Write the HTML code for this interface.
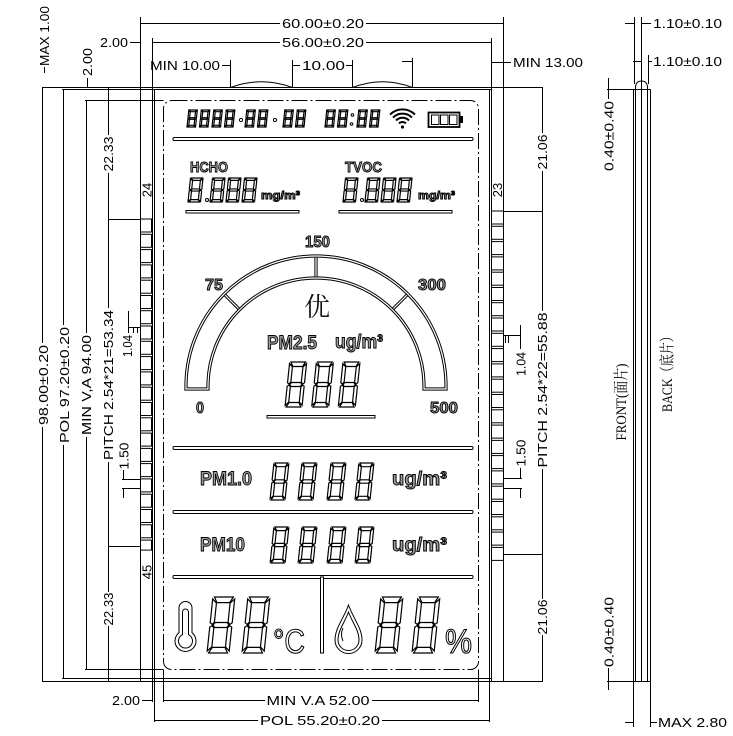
<!DOCTYPE html>
<html><head><meta charset="utf-8"><style>
html,body{margin:0;padding:0;background:#fff;}
svg{display:block}
.l{stroke:#000;stroke-width:1;fill:none}
.t{font-family:"Liberation Sans",sans-serif;font-size:13px;fill:#000}
.r{font-family:"Liberation Serif","Noto Serif CJK SC",serif;font-size:15px;fill:#000}
.b{font-family:"Liberation Sans",sans-serif;font-weight:bold;fill:#9a9a9a;stroke:#000;stroke-width:0.9}
.sg{fill:none;stroke:#000;stroke-width:1.2;vector-effect:non-scaling-stroke}
</style></head><body>
<svg width="733" height="736" viewBox="0 0 733 736" xmlns="http://www.w3.org/2000/svg">
<rect width="733" height="736" fill="#fff"/>
<g class="l">
<path d="M140.5 23.5H280M366 23.5H503.5M152.5 42.5H280M366 42.5H491.5M130 42.5H140.5M222 65.5H230.5M230.5 60V88M292.5 60V88M292.5 65.5H300M346 65.5H352.5M352.5 60V88M402 61.5H412.5M412.5 58V88M491.5 62.5H511"/>
<path d="M230.5 87.5Q261.5 76 292.5 87.5M352.5 87.5Q382.5 76 412.5 87.5"/>
<path d="M42 87.5H543M62 89.5H491.5M85 100.5H163.5M85 669.5H163.5M62 678.5H491.5M42 681.5H543"/>
<path d="M163.5 700.5H265M372 700.5H478.5M142 700.5H152.5M154.5 720.5H258M382 720.5H489.5"/>
<path d="M42.5 87.5V343M42.5 427V681.5M44.5 67V73M63.5 89.5V325M63.5 445V678.5M86.5 100.5V333M86.5 437V669.5M87.5 78V87.5"/>
<path d="M108.5 87.5V135M108.5 173V219.5M108.5 219.5V308M108.5 462V546.5M108.5 546.5V592M108.5 626V681.5M108.5 219.5H140.5M108.5 546.5H140.5"/>
<path d="M140.5 17V681.5M152.5 38V702M154.5 89.5V722M163.5 669.5V702M478.5 669.5V702M489.5 89.5V722M491.5 38V681.5M503.5 17V681.5"/>
<path d="M503.5 211.5H542.5M503.5 554.5H542.5M542.5 87.5V133M542.5 171V211.5M542.5 211.5V311M542.5 469V554.5M542.5 554.5V599M542.5 635V681.5"/>
<path d="M128.5 311V333M128.5 327.5H140.5M133.5 327.5V333M137.5 327.5V333M123.5 470V479.5M122 479.5H140.5M122 488.5H140.5M123.5 488.5V498"/>
<path d="M520.5 325V349M503.5 335.5H520.5M505.5 335.5V343M508.5 335.5V343M520.5 468V478.5M503.5 478.5H522M503.5 488.5H522M520.5 488.5V498"/>
<path d="M633.5 89.5V727M650.5 89.5V727M635.5 86V681.5M647.5 86V681.5M641.5 17V681.5M635.5 88Q635.5 81 641.5 81Q647.5 81 647.5 88M634.5 17V84M648.5 55V84M625 23.5H634.5M641.5 23.5H651M633 61.5H641.5M648.5 61.5H652M607 89.5H650.5M607 681.5H650.5M608.5 78V99M608.5 668V690M625 722.5H633.5M650.5 722.5H657"/>
</g>
<g class="l">
<rect x="140.5" y="219" width="11" height="13"/><rect x="140.5" y="234.3" width="11" height="13"/><rect x="140.5" y="249.6" width="11" height="13"/><rect x="140.5" y="264.9" width="11" height="13"/><rect x="140.5" y="280.2" width="11" height="13"/><rect x="140.5" y="295.5" width="11" height="13"/><rect x="140.5" y="310.7" width="11" height="13"/><rect x="140.5" y="326" width="11" height="13"/><rect x="140.5" y="341.3" width="11" height="13"/><rect x="140.5" y="356.6" width="11" height="13"/><rect x="140.5" y="371.9" width="11" height="13"/><rect x="140.5" y="387.2" width="11" height="13"/><rect x="140.5" y="402.5" width="11" height="13"/><rect x="140.5" y="417.8" width="11" height="13"/><rect x="140.5" y="433.1" width="11" height="13"/><rect x="140.5" y="448.4" width="11" height="13"/><rect x="140.5" y="463.6" width="11" height="13"/><rect x="140.5" y="478.9" width="11" height="13"/><rect x="140.5" y="494.2" width="11" height="13"/><rect x="140.5" y="509.5" width="11" height="13"/><rect x="140.5" y="524.8" width="11" height="13"/><rect x="140.5" y="540.1" width="11" height="10"/>
<rect x="491.5" y="211" width="12" height="13"/><rect x="491.5" y="226.3" width="12" height="13"/><rect x="491.5" y="241.6" width="12" height="13"/><rect x="491.5" y="256.9" width="12" height="13"/><rect x="491.5" y="272.2" width="12" height="13"/><rect x="491.5" y="287.5" width="12" height="13"/><rect x="491.5" y="302.7" width="12" height="13"/><rect x="491.5" y="318" width="12" height="13"/><rect x="491.5" y="333.3" width="12" height="13"/><rect x="491.5" y="348.6" width="12" height="13"/><rect x="491.5" y="363.9" width="12" height="13"/><rect x="491.5" y="379.2" width="12" height="13"/><rect x="491.5" y="394.5" width="12" height="13"/><rect x="491.5" y="409.8" width="12" height="13"/><rect x="491.5" y="425.1" width="12" height="13"/><rect x="491.5" y="440.4" width="12" height="13"/><rect x="491.5" y="455.6" width="12" height="13"/><rect x="491.5" y="470.9" width="12" height="13"/><rect x="491.5" y="486.2" width="12" height="13"/><rect x="491.5" y="501.5" width="12" height="13"/><rect x="491.5" y="516.8" width="12" height="13"/><rect x="491.5" y="532.1" width="12" height="13"/><rect x="491.5" y="547.4" width="12" height="13"/>
</g>
<!-- dimension text -->
<text class="t" x="323" y="28" text-anchor="middle" textLength="82" lengthAdjust="spacingAndGlyphs">60.00±0.20</text>
<text class="t" x="323" y="47" text-anchor="middle" textLength="82" lengthAdjust="spacingAndGlyphs">56.00±0.20</text>
<text class="t" x="100" y="47" textLength="28" lengthAdjust="spacingAndGlyphs">2.00</text>
<text class="t" x="150" y="70" textLength="70" lengthAdjust="spacingAndGlyphs">MIN 10.00</text>
<text class="t" x="302" y="70" textLength="43" lengthAdjust="spacingAndGlyphs">10.00</text>
<text class="t" x="513" y="67" textLength="70" lengthAdjust="spacingAndGlyphs">MIN 13.00</text>
<text class="t" x="653" y="28" textLength="69" lengthAdjust="spacingAndGlyphs">1.10±0.10</text>
<text class="t" x="653" y="66" textLength="69" lengthAdjust="spacingAndGlyphs">1.10±0.10</text>
<text class="t" x="318" y="705" text-anchor="middle" textLength="103" lengthAdjust="spacingAndGlyphs">MIN V.A 52.00</text>
<text class="t" x="112" y="705" textLength="28" lengthAdjust="spacingAndGlyphs">2.00</text>
<text class="t" x="320" y="725" text-anchor="middle" textLength="120" lengthAdjust="spacingAndGlyphs">POL 55.20±0.20</text>
<text class="t" x="658" y="727" textLength="69" lengthAdjust="spacingAndGlyphs">MAX 2.80</text>
<g class="t" text-anchor="middle">
<text transform="translate(49,36) rotate(-90)" textLength="60" lengthAdjust="spacingAndGlyphs">MAX 1.00</text>
<text transform="translate(92,62) rotate(-90)" textLength="28" lengthAdjust="spacingAndGlyphs">2.00</text>
<text transform="translate(113,154) rotate(-90)" textLength="35" lengthAdjust="spacingAndGlyphs">22.33</text>
<text transform="translate(48,385) rotate(-90)" textLength="80" lengthAdjust="spacingAndGlyphs">98.00±0.20</text>
<text transform="translate(69,385) rotate(-90)" textLength="116" lengthAdjust="spacingAndGlyphs">POL 97.20±0.20</text>
<text transform="translate(91,385) rotate(-90)" textLength="100" lengthAdjust="spacingAndGlyphs">MIN V,A 94.00</text>
<text transform="translate(113,385) rotate(-90)" textLength="150" lengthAdjust="spacingAndGlyphs">PITCH 2.54*21=53.34</text>
<text transform="translate(132,346) rotate(-90)" textLength="22" lengthAdjust="spacingAndGlyphs">1.04</text>
<text transform="translate(128.5,456) rotate(-90)" textLength="27" lengthAdjust="spacingAndGlyphs">1.50</text>
<text transform="translate(113,609) rotate(-90)" textLength="33" lengthAdjust="spacingAndGlyphs">22.33</text>
<text transform="translate(547,152) rotate(-90)" textLength="35" lengthAdjust="spacingAndGlyphs">21.06</text>
<text transform="translate(547,390) rotate(-90)" textLength="155" lengthAdjust="spacingAndGlyphs">PITCH 2.54*22=55.88</text>
<text transform="translate(547,617) rotate(-90)" textLength="35" lengthAdjust="spacingAndGlyphs">21.06</text>
<text transform="translate(525.5,364) rotate(-90)" textLength="24" lengthAdjust="spacingAndGlyphs">1.04</text>
<text transform="translate(525.5,453) rotate(-90)" textLength="27" lengthAdjust="spacingAndGlyphs">1.50</text>
<text transform="translate(613.5,136) rotate(-90)" textLength="70" lengthAdjust="spacingAndGlyphs">0.40±0.40</text>
<text transform="translate(613.5,632) rotate(-90)" textLength="70" lengthAdjust="spacingAndGlyphs">0.40±0.40</text>
<text transform="translate(151.5,190) rotate(-90)">24</text>
<text transform="translate(151.5,572) rotate(-90)">45</text>
<text transform="translate(502,190) rotate(-90)">23</text>
</g>
<g class="r" text-anchor="middle">
<text transform="translate(626,402) rotate(-90)" textLength="77" lengthAdjust="spacingAndGlyphs">FRONT(面片)</text>
<text transform="translate(672,371) rotate(-90)" textLength="82" lengthAdjust="spacingAndGlyphs">BACK（底片）</text>
</g>
<!-- display area -->
<rect x="163.5" y="100.5" width="315" height="569" rx="8" fill="none" stroke="#000" stroke-width="1" stroke-dasharray="16 3 2 3"/>
<g fill="#fff" stroke="#000" stroke-width="1">
<rect x="173" y="137.5" width="300" height="3" rx="1.2"/>
<rect x="173" y="446.5" width="300" height="3" rx="1.2"/>
<rect x="173" y="510.5" width="300" height="3" rx="1.2"/>
<rect x="173" y="575.5" width="300" height="3" rx="1.2"/>
<rect x="186" y="210.5" width="113" height="2.5"/>
<rect x="339" y="210.5" width="113" height="2.5"/>
<rect x="267" y="415.5" width="108" height="2.5"/>
<rect x="320.5" y="577" width="3" height="76"/>
</g>
<!-- gauge -->
<g fill="none" stroke="#000" stroke-width="3.2">
<path d="M186 389V386A130 130 0 0 1 446 386V389H424V386A108 108 0 0 0 208 386V389Z"/>
<path d="M316 256V278M224.1 294.1L239.6 309.6M407.9 294.1L392.4 309.6"/>
</g>
<g fill="none" stroke="#fff" stroke-width="1.2">
<path d="M186 389V386A130 130 0 0 1 446 386V389H424V386A108 108 0 0 0 208 386V389Z"/>
<path d="M316 257.5V276.5M225.2 295.2L238.5 308.5M406.8 295.2L393.5 308.5"/>
</g>
<text class="b" x="317.5" y="247" font-size="16" text-anchor="middle" textLength="25" lengthAdjust="spacingAndGlyphs">150</text>
<text class="b" x="205" y="290" font-size="16" textLength="18" lengthAdjust="spacingAndGlyphs">75</text>
<text class="b" x="418" y="290" font-size="16" textLength="28" lengthAdjust="spacingAndGlyphs">300</text>
<text class="b" x="196" y="413" font-size="16" textLength="8" lengthAdjust="spacingAndGlyphs">0</text>
<text class="b" x="430" y="413" font-size="16" textLength="28" lengthAdjust="spacingAndGlyphs">500</text>
<text x="317" y="316" font-family="'Noto Serif CJK SC','Noto Sans CJK SC',serif" font-size="26" text-anchor="middle" fill="#111">优</text>
<text class="b" x="267" y="349" font-size="19" textLength="50" lengthAdjust="spacingAndGlyphs">PM2.5</text>
<text class="b" x="335" y="348" font-size="19" textLength="48" lengthAdjust="spacingAndGlyphs">ug/m³</text>
<!-- labels -->
<text class="b" x="190" y="172" font-size="15" textLength="38" lengthAdjust="spacingAndGlyphs">HCHO</text>
<text class="b" x="345" y="172" font-size="15" textLength="37" lengthAdjust="spacingAndGlyphs">TVOC</text>
<text class="b" x="261" y="199" font-size="11" textLength="39" lengthAdjust="spacingAndGlyphs" stroke-width="0.6">mg/m³</text>
<text class="b" x="418" y="199" font-size="11" textLength="37" lengthAdjust="spacingAndGlyphs" stroke-width="0.6">mg/m³</text>
<text class="b" x="200" y="485" font-size="19" textLength="52" lengthAdjust="spacingAndGlyphs">PM1.0</text>
<text class="b" x="392" y="485" font-size="19" textLength="55" lengthAdjust="spacingAndGlyphs">ug/m³</text>
<text class="b" x="200" y="551" font-size="19" textLength="45" lengthAdjust="spacingAndGlyphs">PM10</text>
<text class="b" x="392" y="551" font-size="19" textLength="55" lengthAdjust="spacingAndGlyphs">ug/m³</text>
<text x="273" y="653" font-family="'Liberation Sans',sans-serif" font-size="34" fill="#fff" stroke="#000" stroke-width="1.1" textLength="32" lengthAdjust="spacingAndGlyphs">°C</text>
<text x="445" y="653" font-family="'Liberation Sans',sans-serif" font-size="34" fill="#fff" stroke="#000" stroke-width="1.1" textLength="27" lengthAdjust="spacingAndGlyphs">%</text>
<!-- icons -->
<g fill="none" stroke="#000" stroke-width="2">
<path d="M398.96 123.46A5 5 0 0 1 406.04 123.46M396 120.5A9.2 9.2 0 0 1 409 120.5M393.03 117.53A13.4 13.4 0 0 1 411.97 117.53M390.06 114.56A17.6 17.6 0 0 1 414.94 114.56"/>
</g>
<circle cx="402.5" cy="127" r="1.6" fill="#000"/>
<rect x="428.5" y="112.5" width="31" height="14.5" fill="none" stroke="#000" stroke-width="1.8"/>
<rect x="460" y="116" width="3" height="7" fill="#000"/>
<g fill="none" stroke="#000" stroke-width="1">
<rect x="431.5" y="115" width="7.5" height="9.5"/><rect x="440.5" y="115" width="7.5" height="9.5"/><rect x="449.5" y="115" width="7.5" height="9.5"/>
<circle cx="241" cy="120" r="1.6"/><circle cx="275" cy="120" r="1.6"/>
<circle cx="352.5" cy="115" r="1.3"/><circle cx="351.5" cy="124" r="1.3"/>
<circle cx="207" cy="200" r="1.5"/><circle cx="362" cy="200" r="1.5"/>
<path d="M179 632.7V608A6.5 6.5 0 0 1 192 608V632.7A10.5 10.5 0 1 1 179 632.7Z"/>
<path d="M182.5 634.7V612A3 3 0 0 1 188.5 612V634.7A7 7 0 1 1 182.5 634.7Z"/>
<path d="M348.5 605C344 618 335 628 335 640A13.5 13.5 0 0 0 362 640C362 628 353 618 348.5 605Z"/>
<path d="M348.5 612C345 622 338 630 338 640A10.5 10.5 0 0 0 359 640C359 630 352 622 348.5 612Z"/>
<path d="M343 628Q340 634 343 641"/>
</g>
<!-- segment digits -->
<g>
<path class="sg" transform="translate(188.8,110) skewX(-6) scale(0.85,0.85)" d="M0.7 0H9.3L7.9 2H2.1ZM0 0.7L1.9 2.2V8.9L1 9.8L0 9.2ZM10 0.7L8.1 2.2V8.9L9 9.8L10 9.2ZM1.4 10L2.3 9.1H7.7L8.6 10L7.7 10.9H2.3ZM0 10.8L1 10.2L1.9 11.1V17.8L0 19.3ZM10 10.8L9 10.2L8.1 11.1V17.8L10 19.3ZM0.7 20H9.3L7.9 18H2.1Z"/>
<path class="sg" transform="translate(201.3,110) skewX(-6) scale(0.85,0.85)" d="M0.7 0H9.3L7.9 2H2.1ZM0 0.7L1.9 2.2V8.9L1 9.8L0 9.2ZM10 0.7L8.1 2.2V8.9L9 9.8L10 9.2ZM1.4 10L2.3 9.1H7.7L8.6 10L7.7 10.9H2.3ZM0 10.8L1 10.2L1.9 11.1V17.8L0 19.3ZM10 10.8L9 10.2L8.1 11.1V17.8L10 19.3ZM0.7 20H9.3L7.9 18H2.1Z"/>
<path class="sg" transform="translate(213.8,110) skewX(-6) scale(0.85,0.85)" d="M0.7 0H9.3L7.9 2H2.1ZM0 0.7L1.9 2.2V8.9L1 9.8L0 9.2ZM10 0.7L8.1 2.2V8.9L9 9.8L10 9.2ZM1.4 10L2.3 9.1H7.7L8.6 10L7.7 10.9H2.3ZM0 10.8L1 10.2L1.9 11.1V17.8L0 19.3ZM10 10.8L9 10.2L8.1 11.1V17.8L10 19.3ZM0.7 20H9.3L7.9 18H2.1Z"/>
<path class="sg" transform="translate(226.3,110) skewX(-6) scale(0.85,0.85)" d="M0.7 0H9.3L7.9 2H2.1ZM0 0.7L1.9 2.2V8.9L1 9.8L0 9.2ZM10 0.7L8.1 2.2V8.9L9 9.8L10 9.2ZM1.4 10L2.3 9.1H7.7L8.6 10L7.7 10.9H2.3ZM0 10.8L1 10.2L1.9 11.1V17.8L0 19.3ZM10 10.8L9 10.2L8.1 11.1V17.8L10 19.3ZM0.7 20H9.3L7.9 18H2.1Z"/>
<path class="sg" transform="translate(246.8,110) skewX(-6) scale(0.85,0.85)" d="M0.7 0H9.3L7.9 2H2.1ZM0 0.7L1.9 2.2V8.9L1 9.8L0 9.2ZM10 0.7L8.1 2.2V8.9L9 9.8L10 9.2ZM1.4 10L2.3 9.1H7.7L8.6 10L7.7 10.9H2.3ZM0 10.8L1 10.2L1.9 11.1V17.8L0 19.3ZM10 10.8L9 10.2L8.1 11.1V17.8L10 19.3ZM0.7 20H9.3L7.9 18H2.1Z"/>
<path class="sg" transform="translate(259.3,110) skewX(-6) scale(0.85,0.85)" d="M0.7 0H9.3L7.9 2H2.1ZM0 0.7L1.9 2.2V8.9L1 9.8L0 9.2ZM10 0.7L8.1 2.2V8.9L9 9.8L10 9.2ZM1.4 10L2.3 9.1H7.7L8.6 10L7.7 10.9H2.3ZM0 10.8L1 10.2L1.9 11.1V17.8L0 19.3ZM10 10.8L9 10.2L8.1 11.1V17.8L10 19.3ZM0.7 20H9.3L7.9 18H2.1Z"/>
<path class="sg" transform="translate(284.8,110) skewX(-6) scale(0.85,0.85)" d="M0.7 0H9.3L7.9 2H2.1ZM0 0.7L1.9 2.2V8.9L1 9.8L0 9.2ZM10 0.7L8.1 2.2V8.9L9 9.8L10 9.2ZM1.4 10L2.3 9.1H7.7L8.6 10L7.7 10.9H2.3ZM0 10.8L1 10.2L1.9 11.1V17.8L0 19.3ZM10 10.8L9 10.2L8.1 11.1V17.8L10 19.3ZM0.7 20H9.3L7.9 18H2.1Z"/>
<path class="sg" transform="translate(297.3,110) skewX(-6) scale(0.85,0.85)" d="M0.7 0H9.3L7.9 2H2.1ZM0 0.7L1.9 2.2V8.9L1 9.8L0 9.2ZM10 0.7L8.1 2.2V8.9L9 9.8L10 9.2ZM1.4 10L2.3 9.1H7.7L8.6 10L7.7 10.9H2.3ZM0 10.8L1 10.2L1.9 11.1V17.8L0 19.3ZM10 10.8L9 10.2L8.1 11.1V17.8L10 19.3ZM0.7 20H9.3L7.9 18H2.1Z"/>
<path class="sg" transform="translate(326.8,110) skewX(-6) scale(0.85,0.85)" d="M0.7 0H9.3L7.9 2H2.1ZM0 0.7L1.9 2.2V8.9L1 9.8L0 9.2ZM10 0.7L8.1 2.2V8.9L9 9.8L10 9.2ZM1.4 10L2.3 9.1H7.7L8.6 10L7.7 10.9H2.3ZM0 10.8L1 10.2L1.9 11.1V17.8L0 19.3ZM10 10.8L9 10.2L8.1 11.1V17.8L10 19.3ZM0.7 20H9.3L7.9 18H2.1Z"/>
<path class="sg" transform="translate(339.3,110) skewX(-6) scale(0.85,0.85)" d="M0.7 0H9.3L7.9 2H2.1ZM0 0.7L1.9 2.2V8.9L1 9.8L0 9.2ZM10 0.7L8.1 2.2V8.9L9 9.8L10 9.2ZM1.4 10L2.3 9.1H7.7L8.6 10L7.7 10.9H2.3ZM0 10.8L1 10.2L1.9 11.1V17.8L0 19.3ZM10 10.8L9 10.2L8.1 11.1V17.8L10 19.3ZM0.7 20H9.3L7.9 18H2.1Z"/>
<path class="sg" transform="translate(358.8,110) skewX(-6) scale(0.85,0.85)" d="M0.7 0H9.3L7.9 2H2.1ZM0 0.7L1.9 2.2V8.9L1 9.8L0 9.2ZM10 0.7L8.1 2.2V8.9L9 9.8L10 9.2ZM1.4 10L2.3 9.1H7.7L8.6 10L7.7 10.9H2.3ZM0 10.8L1 10.2L1.9 11.1V17.8L0 19.3ZM10 10.8L9 10.2L8.1 11.1V17.8L10 19.3ZM0.7 20H9.3L7.9 18H2.1Z"/>
<path class="sg" transform="translate(371.3,110) skewX(-6) scale(0.85,0.85)" d="M0.7 0H9.3L7.9 2H2.1ZM0 0.7L1.9 2.2V8.9L1 9.8L0 9.2ZM10 0.7L8.1 2.2V8.9L9 9.8L10 9.2ZM1.4 10L2.3 9.1H7.7L8.6 10L7.7 10.9H2.3ZM0 10.8L1 10.2L1.9 11.1V17.8L0 19.3ZM10 10.8L9 10.2L8.1 11.1V17.8L10 19.3ZM0.7 20H9.3L7.9 18H2.1Z"/>
<path class="sg" transform="translate(190.5,178) skewX(-6) scale(1.25,1.2)" d="M0.7 0H9.3L7.9 2H2.1ZM0 0.7L1.9 2.2V8.9L1 9.8L0 9.2ZM10 0.7L8.1 2.2V8.9L9 9.8L10 9.2ZM1.4 10L2.3 9.1H7.7L8.6 10L7.7 10.9H2.3ZM0 10.8L1 10.2L1.9 11.1V17.8L0 19.3ZM10 10.8L9 10.2L8.1 11.1V17.8L10 19.3ZM0.7 20H9.3L7.9 18H2.1Z"/>
<path class="sg" transform="translate(212.5,178) skewX(-6) scale(1.25,1.2)" d="M0.7 0H9.3L7.9 2H2.1ZM0 0.7L1.9 2.2V8.9L1 9.8L0 9.2ZM10 0.7L8.1 2.2V8.9L9 9.8L10 9.2ZM1.4 10L2.3 9.1H7.7L8.6 10L7.7 10.9H2.3ZM0 10.8L1 10.2L1.9 11.1V17.8L0 19.3ZM10 10.8L9 10.2L8.1 11.1V17.8L10 19.3ZM0.7 20H9.3L7.9 18H2.1Z"/>
<path class="sg" transform="translate(228.5,178) skewX(-6) scale(1.25,1.2)" d="M0.7 0H9.3L7.9 2H2.1ZM0 0.7L1.9 2.2V8.9L1 9.8L0 9.2ZM10 0.7L8.1 2.2V8.9L9 9.8L10 9.2ZM1.4 10L2.3 9.1H7.7L8.6 10L7.7 10.9H2.3ZM0 10.8L1 10.2L1.9 11.1V17.8L0 19.3ZM10 10.8L9 10.2L8.1 11.1V17.8L10 19.3ZM0.7 20H9.3L7.9 18H2.1Z"/>
<path class="sg" transform="translate(244.5,178) skewX(-6) scale(1.25,1.2)" d="M0.7 0H9.3L7.9 2H2.1ZM0 0.7L1.9 2.2V8.9L1 9.8L0 9.2ZM10 0.7L8.1 2.2V8.9L9 9.8L10 9.2ZM1.4 10L2.3 9.1H7.7L8.6 10L7.7 10.9H2.3ZM0 10.8L1 10.2L1.9 11.1V17.8L0 19.3ZM10 10.8L9 10.2L8.1 11.1V17.8L10 19.3ZM0.7 20H9.3L7.9 18H2.1Z"/>
<path class="sg" transform="translate(345.5,178) skewX(-6) scale(1.25,1.2)" d="M0.7 0H9.3L7.9 2H2.1ZM0 0.7L1.9 2.2V8.9L1 9.8L0 9.2ZM10 0.7L8.1 2.2V8.9L9 9.8L10 9.2ZM1.4 10L2.3 9.1H7.7L8.6 10L7.7 10.9H2.3ZM0 10.8L1 10.2L1.9 11.1V17.8L0 19.3ZM10 10.8L9 10.2L8.1 11.1V17.8L10 19.3ZM0.7 20H9.3L7.9 18H2.1Z"/>
<path class="sg" transform="translate(367.5,178) skewX(-6) scale(1.25,1.2)" d="M0.7 0H9.3L7.9 2H2.1ZM0 0.7L1.9 2.2V8.9L1 9.8L0 9.2ZM10 0.7L8.1 2.2V8.9L9 9.8L10 9.2ZM1.4 10L2.3 9.1H7.7L8.6 10L7.7 10.9H2.3ZM0 10.8L1 10.2L1.9 11.1V17.8L0 19.3ZM10 10.8L9 10.2L8.1 11.1V17.8L10 19.3ZM0.7 20H9.3L7.9 18H2.1Z"/>
<path class="sg" transform="translate(383.5,178) skewX(-6) scale(1.25,1.2)" d="M0.7 0H9.3L7.9 2H2.1ZM0 0.7L1.9 2.2V8.9L1 9.8L0 9.2ZM10 0.7L8.1 2.2V8.9L9 9.8L10 9.2ZM1.4 10L2.3 9.1H7.7L8.6 10L7.7 10.9H2.3ZM0 10.8L1 10.2L1.9 11.1V17.8L0 19.3ZM10 10.8L9 10.2L8.1 11.1V17.8L10 19.3ZM0.7 20H9.3L7.9 18H2.1Z"/>
<path class="sg" transform="translate(399.5,178) skewX(-6) scale(1.25,1.2)" d="M0.7 0H9.3L7.9 2H2.1ZM0 0.7L1.9 2.2V8.9L1 9.8L0 9.2ZM10 0.7L8.1 2.2V8.9L9 9.8L10 9.2ZM1.4 10L2.3 9.1H7.7L8.6 10L7.7 10.9H2.3ZM0 10.8L1 10.2L1.9 11.1V17.8L0 19.3ZM10 10.8L9 10.2L8.1 11.1V17.8L10 19.3ZM0.7 20H9.3L7.9 18H2.1Z"/>
<path class="sg" transform="translate(289.7,362) skewX(-6) scale(1.7,2.25)" d="M0.7 0H9.3L7.9 2H2.1ZM0 0.7L1.9 2.2V8.9L1 9.8L0 9.2ZM10 0.7L8.1 2.2V8.9L9 9.8L10 9.2ZM1.4 10L2.3 9.1H7.7L8.6 10L7.7 10.9H2.3ZM0 10.8L1 10.2L1.9 11.1V17.8L0 19.3ZM10 10.8L9 10.2L8.1 11.1V17.8L10 19.3ZM0.7 20H9.3L7.9 18H2.1Z"/>
<path class="sg" transform="translate(316.4,362) skewX(-6) scale(1.7,2.25)" d="M0.7 0H9.3L7.9 2H2.1ZM0 0.7L1.9 2.2V8.9L1 9.8L0 9.2ZM10 0.7L8.1 2.2V8.9L9 9.8L10 9.2ZM1.4 10L2.3 9.1H7.7L8.6 10L7.7 10.9H2.3ZM0 10.8L1 10.2L1.9 11.1V17.8L0 19.3ZM10 10.8L9 10.2L8.1 11.1V17.8L10 19.3ZM0.7 20H9.3L7.9 18H2.1Z"/>
<path class="sg" transform="translate(343,362) skewX(-6) scale(1.7,2.25)" d="M0.7 0H9.3L7.9 2H2.1ZM0 0.7L1.9 2.2V8.9L1 9.8L0 9.2ZM10 0.7L8.1 2.2V8.9L9 9.8L10 9.2ZM1.4 10L2.3 9.1H7.7L8.6 10L7.7 10.9H2.3ZM0 10.8L1 10.2L1.9 11.1V17.8L0 19.3ZM10 10.8L9 10.2L8.1 11.1V17.8L10 19.3ZM0.7 20H9.3L7.9 18H2.1Z"/>
<path class="sg" transform="translate(273.9,463) skewX(-6) scale(1.5,1.85)" d="M0.7 0H9.3L7.9 2H2.1ZM0 0.7L1.9 2.2V8.9L1 9.8L0 9.2ZM10 0.7L8.1 2.2V8.9L9 9.8L10 9.2ZM1.4 10L2.3 9.1H7.7L8.6 10L7.7 10.9H2.3ZM0 10.8L1 10.2L1.9 11.1V17.8L0 19.3ZM10 10.8L9 10.2L8.1 11.1V17.8L10 19.3ZM0.7 20H9.3L7.9 18H2.1Z"/>
<path class="sg" transform="translate(301.9,463) skewX(-6) scale(1.5,1.85)" d="M0.7 0H9.3L7.9 2H2.1ZM0 0.7L1.9 2.2V8.9L1 9.8L0 9.2ZM10 0.7L8.1 2.2V8.9L9 9.8L10 9.2ZM1.4 10L2.3 9.1H7.7L8.6 10L7.7 10.9H2.3ZM0 10.8L1 10.2L1.9 11.1V17.8L0 19.3ZM10 10.8L9 10.2L8.1 11.1V17.8L10 19.3ZM0.7 20H9.3L7.9 18H2.1Z"/>
<path class="sg" transform="translate(330.9,463) skewX(-6) scale(1.5,1.85)" d="M0.7 0H9.3L7.9 2H2.1ZM0 0.7L1.9 2.2V8.9L1 9.8L0 9.2ZM10 0.7L8.1 2.2V8.9L9 9.8L10 9.2ZM1.4 10L2.3 9.1H7.7L8.6 10L7.7 10.9H2.3ZM0 10.8L1 10.2L1.9 11.1V17.8L0 19.3ZM10 10.8L9 10.2L8.1 11.1V17.8L10 19.3ZM0.7 20H9.3L7.9 18H2.1Z"/>
<path class="sg" transform="translate(358.9,463) skewX(-6) scale(1.5,1.85)" d="M0.7 0H9.3L7.9 2H2.1ZM0 0.7L1.9 2.2V8.9L1 9.8L0 9.2ZM10 0.7L8.1 2.2V8.9L9 9.8L10 9.2ZM1.4 10L2.3 9.1H7.7L8.6 10L7.7 10.9H2.3ZM0 10.8L1 10.2L1.9 11.1V17.8L0 19.3ZM10 10.8L9 10.2L8.1 11.1V17.8L10 19.3ZM0.7 20H9.3L7.9 18H2.1Z"/>
<path class="sg" transform="translate(273.9,527) skewX(-6) scale(1.5,1.8)" d="M0.7 0H9.3L7.9 2H2.1ZM0 0.7L1.9 2.2V8.9L1 9.8L0 9.2ZM10 0.7L8.1 2.2V8.9L9 9.8L10 9.2ZM1.4 10L2.3 9.1H7.7L8.6 10L7.7 10.9H2.3ZM0 10.8L1 10.2L1.9 11.1V17.8L0 19.3ZM10 10.8L9 10.2L8.1 11.1V17.8L10 19.3ZM0.7 20H9.3L7.9 18H2.1Z"/>
<path class="sg" transform="translate(301.9,527) skewX(-6) scale(1.5,1.8)" d="M0.7 0H9.3L7.9 2H2.1ZM0 0.7L1.9 2.2V8.9L1 9.8L0 9.2ZM10 0.7L8.1 2.2V8.9L9 9.8L10 9.2ZM1.4 10L2.3 9.1H7.7L8.6 10L7.7 10.9H2.3ZM0 10.8L1 10.2L1.9 11.1V17.8L0 19.3ZM10 10.8L9 10.2L8.1 11.1V17.8L10 19.3ZM0.7 20H9.3L7.9 18H2.1Z"/>
<path class="sg" transform="translate(330.9,527) skewX(-6) scale(1.5,1.8)" d="M0.7 0H9.3L7.9 2H2.1ZM0 0.7L1.9 2.2V8.9L1 9.8L0 9.2ZM10 0.7L8.1 2.2V8.9L9 9.8L10 9.2ZM1.4 10L2.3 9.1H7.7L8.6 10L7.7 10.9H2.3ZM0 10.8L1 10.2L1.9 11.1V17.8L0 19.3ZM10 10.8L9 10.2L8.1 11.1V17.8L10 19.3ZM0.7 20H9.3L7.9 18H2.1Z"/>
<path class="sg" transform="translate(358.9,527) skewX(-6) scale(1.5,1.8)" d="M0.7 0H9.3L7.9 2H2.1ZM0 0.7L1.9 2.2V8.9L1 9.8L0 9.2ZM10 0.7L8.1 2.2V8.9L9 9.8L10 9.2ZM1.4 10L2.3 9.1H7.7L8.6 10L7.7 10.9H2.3ZM0 10.8L1 10.2L1.9 11.1V17.8L0 19.3ZM10 10.8L9 10.2L8.1 11.1V17.8L10 19.3ZM0.7 20H9.3L7.9 18H2.1Z"/>
<path class="sg" transform="translate(212.9,597) skewX(-6) scale(2.2,2.8)" d="M0.7 0H9.3L7.9 2H2.1ZM0 0.7L1.9 2.2V8.9L1 9.8L0 9.2ZM10 0.7L8.1 2.2V8.9L9 9.8L10 9.2ZM1.4 10L2.3 9.1H7.7L8.6 10L7.7 10.9H2.3ZM0 10.8L1 10.2L1.9 11.1V17.8L0 19.3ZM10 10.8L9 10.2L8.1 11.1V17.8L10 19.3ZM0.7 20H9.3L7.9 18H2.1Z"/>
<path class="sg" transform="translate(247.9,597) skewX(-6) scale(2.2,2.8)" d="M0.7 0H9.3L7.9 2H2.1ZM0 0.7L1.9 2.2V8.9L1 9.8L0 9.2ZM10 0.7L8.1 2.2V8.9L9 9.8L10 9.2ZM1.4 10L2.3 9.1H7.7L8.6 10L7.7 10.9H2.3ZM0 10.8L1 10.2L1.9 11.1V17.8L0 19.3ZM10 10.8L9 10.2L8.1 11.1V17.8L10 19.3ZM0.7 20H9.3L7.9 18H2.1Z"/>
<path class="sg" transform="translate(380.9,597) skewX(-6) scale(2.2,2.8)" d="M0.7 0H9.3L7.9 2H2.1ZM0 0.7L1.9 2.2V8.9L1 9.8L0 9.2ZM10 0.7L8.1 2.2V8.9L9 9.8L10 9.2ZM1.4 10L2.3 9.1H7.7L8.6 10L7.7 10.9H2.3ZM0 10.8L1 10.2L1.9 11.1V17.8L0 19.3ZM10 10.8L9 10.2L8.1 11.1V17.8L10 19.3ZM0.7 20H9.3L7.9 18H2.1Z"/>
<path class="sg" transform="translate(417.9,597) skewX(-6) scale(2.2,2.8)" d="M0.7 0H9.3L7.9 2H2.1ZM0 0.7L1.9 2.2V8.9L1 9.8L0 9.2ZM10 0.7L8.1 2.2V8.9L9 9.8L10 9.2ZM1.4 10L2.3 9.1H7.7L8.6 10L7.7 10.9H2.3ZM0 10.8L1 10.2L1.9 11.1V17.8L0 19.3ZM10 10.8L9 10.2L8.1 11.1V17.8L10 19.3ZM0.7 20H9.3L7.9 18H2.1Z"/>
</g>
</svg>
</body></html>
